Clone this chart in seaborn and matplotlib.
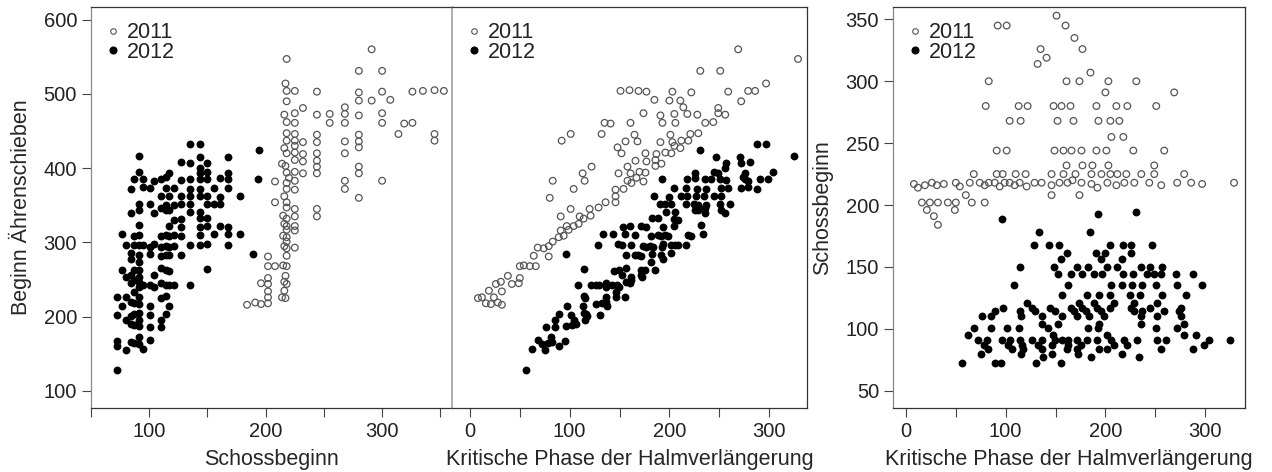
import pandas as pd
import matplotlib
matplotlib.use("Agg")
import matplotlib.pyplot as plt
import seaborn as sns
from matplotlib.lines import Line2D
from matplotlib.ticker import FixedLocator

# 2011 - Kritische Phase der Halmverlängerung, Schossbeginn, Beginn Ährenschieben
krit_2011 = [
    151,
    92, 101, 160,
    169,
    177, 135,
    141,
    132,
    185,
    83, 161, 174, 203, 231,
    200, 269,
    80, 113, 122, 148, 156, 165, 191, 211, 222, 251,
    104, 115, 152, 168, 193, 205, 214,
    206, 218,
    91, 101, 149, 158, 166, 176, 191, 201, 228, 259,
    161, 177, 187, 203, 249,
    68, 91, 97, 110, 120, 146, 158, 170, 186, 196, 205, 212, 221, 236, 249, 279,
    8, 12, 19, 26, 31, 38, 50, 54, 64, 74, 79, 83, 89, 94, 99, 104, 109, 114, 121,
    129, 136, 146, 154, 162, 167, 176, 186, 192, 202, 211, 219, 229, 244, 256, 272,
    286, 297, 329,
    60, 146, 174,
    16, 24, 32, 42, 50, 66, 79,
    21, 49,
    28,
    32,
]
schoss_2011 = [
    353,
    345, 345, 345,
    335,
    326, 326,
    319,
    314,
    307,
    300, 300, 300, 300, 300,
    291, 291,
    280, 280, 280, 280, 280, 280, 280, 280, 280, 280,
    268, 268, 268, 268, 268, 268, 268,
    255, 255,
    244, 244, 244, 244, 244, 244, 244, 244, 244, 244,
    232, 232, 232, 232, 232,
    225, 225, 225, 225, 225, 225, 225, 225, 225, 225, 225, 225, 225, 225, 225, 225,
    217, 214, 216, 218, 216, 217, 218, 215, 218, 218, 216, 218, 218, 215, 218, 218, 216, 218, 215,
    218, 218, 216, 218, 218, 220, 218, 217, 214, 218, 216, 218, 218, 218, 216, 218,
    218, 217, 218,
    208, 208, 208,
    202, 202, 202, 202, 202, 202, 202,
    196, 196,
    191,
    184,
]
ahren_2011 = [
    504,
    437, 446, 505,
    504,
    503, 461,
    460,
    446,
    492,
    383, 461, 474, 503, 531,
    491, 560,
    360, 393, 402, 428, 436, 445, 471, 491, 502, 531,
    372, 383, 420, 436, 461, 473, 482,
    461, 473,
    335, 345, 393, 402, 410, 420, 435, 445, 472, 503,
    393, 409, 419, 435, 481,
    293, 316, 322, 335, 345, 371, 383, 395, 411, 421, 430, 437, 446, 461, 474, 504,
    225, 226, 235, 244, 247, 255, 268, 269, 282, 292, 295, 301, 307, 309, 317, 322, 325, 332, 336,
    347, 354, 362, 372, 380, 387, 394, 403, 406, 420, 427, 437, 447, 462, 472, 490,
    504, 514, 547,
    268, 354, 382,
    218, 226, 234, 244, 252, 268, 281,
    217, 245,
    219,
    216,
]

# 2012
krit_2012 = [
    96,
    133, 185,
    193,
    231,
    128, 143, 153, 205, 218, 226, 247,
    161, 191, 200, 226,
    155, 196, 217,
    114, 148, 172, 183, 202, 212, 236, 245, 257,
    152, 166, 177, 189, 197, 218, 228, 242, 249, 256, 271, 288,
    108, 162, 206, 217, 227, 237, 251, 272, 297,
    156, 182, 194, 205, 225, 235, 257, 281,
    121, 174, 189, 209, 229, 252,
    97, 126, 144, 166, 177, 192, 205, 226, 245, 276,
    89, 114, 129, 149, 169, 181, 196, 229, 237, 259, 274,
    76, 85, 115, 136, 156, 172, 184, 199, 236, 252, 276,
    136, 152, 194, 236, 279,
    68, 85, 101, 113, 142, 183, 193, 251, 272,
    62, 147, 202, 279, 291,
    72, 81, 96, 104, 114, 126, 136, 149, 156, 162, 172, 182, 192, 206, 219, 232, 252, 261, 304, 325,
    78, 102, 116, 132, 146, 162, 176, 209, 222, 299,
    82, 106, 117, 136, 161, 172, 194, 202, 256, 288,
    75, 115, 146, 173, 217,
    137, 186, 234,
    56, 89, 95, 130, 155,
]
schoss_2012 = [
    189,
    178, 178,
    193,
    194,
    168, 168, 168, 168, 168, 168, 168,
    161, 161, 161, 161,
    156, 156, 156,
    150, 150, 150, 150, 150, 150, 150, 150, 150,
    144, 144, 144, 144, 144, 144, 144, 144, 144, 144, 144, 144,
    135, 135, 135, 135, 135, 135, 135, 135, 135,
    127, 127, 127, 127, 127, 127, 127, 127,
    121, 121, 121, 121, 121, 121,
    117, 117, 117, 117, 117, 117, 117, 117, 117, 117,
    114, 114, 114, 114, 114, 114, 114, 114, 114, 114, 114,
    110, 110, 110, 110, 110, 110, 110, 110, 110, 110, 110,
    104, 104, 104, 104, 104,
    101, 101, 101, 101, 101, 101, 101, 101, 101,
    95, 95, 95, 95, 95,
    91, 91, 91, 91, 91, 91, 91, 91, 91, 91, 91, 91, 91, 91, 91, 91, 91, 91, 91, 91,
    87, 87, 87, 87, 87, 87, 87, 87, 87, 87,
    84, 84, 84, 84, 84, 84, 84, 84, 84, 84,
    80, 80, 80, 80, 80,
    77, 77, 77,
    72, 72, 72, 72, 72,
]
ahren_2012 = [
    285,
    311, 363,
    386,
    425,
    296, 311, 321, 373, 386, 394, 415,
    322, 352, 361, 387,
    311, 352, 373,
    264, 298, 322, 333, 352, 362, 386, 395, 407,
    296, 310, 321, 333, 341, 362, 372, 386, 393, 400, 415, 432,
    243, 297, 341, 352, 362, 372, 386, 407, 432,
    283, 309, 321, 332, 352, 362, 384, 408,
    242, 295, 310, 330, 350, 373,
    214, 243, 261, 283, 294, 309, 322, 343, 362, 393,
    203, 228, 243, 263, 283, 295, 310, 343, 351, 373, 388,
    186, 195, 225, 246, 266, 282, 294, 309, 346, 362, 386,
    240, 256, 298, 340, 383,
    169, 186, 202, 214, 243, 284, 294, 352, 373,
    157, 242, 297, 374, 386,
    163, 172, 187, 195, 205, 217, 227, 240, 247, 253, 263, 273, 283, 297, 310, 323, 343, 352, 395, 416,
    165, 189, 203, 219, 233, 249, 263, 296, 309, 386,
    166, 190, 201, 220, 245, 256, 278, 286, 340, 372,
    155, 195, 226, 253, 297,
    214, 263, 311,
    128, 161, 167, 202, 227,
]

d11 = pd.DataFrame({"krit": krit_2011, "schoss": schoss_2011, "ahren": ahren_2011})
d12 = pd.DataFrame({"krit": krit_2012, "schoss": schoss_2012, "ahren": ahren_2012})

sns.set_theme(style="ticks")
plt.rcParams["font.family"] = ["Liberation Sans", "DejaVu Sans"]
plt.rcParams["text.color"] = "#222222"

W, H = 1272, 472
fig = plt.figure(figsize=(W / 100, H / 100), dpi=100)
bot, top = 1 - 408 / H, 401 / H
ax1 = fig.add_axes([91 / W, bot, (452 - 91) / W, top])
ax2 = fig.add_axes([452 / W, bot, (807 - 452) / W, top])
ax3 = fig.add_axes([893 / W, bot, (1245 - 893) / W, top])

OPEN_C = "#555555"


def draw(ax, xcol, ycol):
    sns.scatterplot(data=d11, x=xcol, y=ycol, ax=ax, marker="o", s=23,
                    facecolors="none", edgecolor=OPEN_C, linewidth=0.9, legend=False)
    sns.scatterplot(data=d12, x=xcol, y=ycol, ax=ax, marker="o", s=32,
                    color="black", edgecolor="black", linewidth=0, legend=False)
    ax.set_xlabel("Kritische Phase der Halmverlängerung", fontsize=15.5, labelpad=6)
    ax.set_ylabel("")
    ax.tick_params(axis="both", which="both", direction="out", length=6.5, width=0.8,
                   color="#444444", labelsize=14.5, labelcolor="#222222")
    for s in ax.spines.values():
        s.set_color("#333333")
        s.set_linewidth(0.9)
    handles = [
        Line2D([], [], marker="o", ls="none", mfc="none", mec=OPEN_C, ms=4, mew=0.8),
        Line2D([], [], marker="o", ls="none", mfc="black", mec="black", ms=4.8),
    ]
    ax.legend(handles, ["2011", "2012"], loc="upper left", frameon=False, fontsize=15.5,
              handlelength=0.6, handletextpad=0.35, labelspacing=-0.05,
              borderaxespad=0.15, borderpad=0.55)


draw(ax1, "schoss", "ahren")
draw(ax2, "krit", "ahren")
draw(ax3, "krit", "schoss")

# Panel 1
ax1.set_xlim(50, 360)
ax1.set_ylim(77, 617)
ax1.set_xticks([100, 200, 300])
ax1.xaxis.set_minor_locator(FixedLocator([50, 150, 250, 350]))
ax1.set_yticks([100, 200, 300, 400, 500, 600])
ax1.set_xlabel("Schossbeginn", fontsize=15.5, labelpad=6)
ax1.set_ylabel("Beginn Ährenschieben", fontsize=15.5, labelpad=8)
ax1.spines["right"].set_visible(False)
ax1.spines["left"].set_color("#888888")

# Panel 2 (shares the y scale of panel 1, grey separator on the left)
ax2.set_xlim(-18, 338)
ax2.set_ylim(77, 617)
ax2.set_xticks([0, 100, 200, 300])
ax2.xaxis.set_minor_locator(FixedLocator([50, 150, 250]))
ax2.set_yticks([])
ax2.spines["left"].set_color("#999999")
ax2.spines["left"].set_linewidth(1.1)

# Panel 3
ax3.set_xlim(-13, 340)
ax3.set_ylim(36, 360)
ax3.set_xticks([0, 100, 200, 300])
ax3.xaxis.set_minor_locator(FixedLocator([50, 150, 250]))
ax3.set_yticks([50, 100, 150, 200, 250, 300, 350])
ax3.set_ylabel("Schossbeginn", fontsize=15.5, labelpad=9)
ax3.spines["left"].set_color("#888888")

plt.savefig("out.png", dpi=100)
